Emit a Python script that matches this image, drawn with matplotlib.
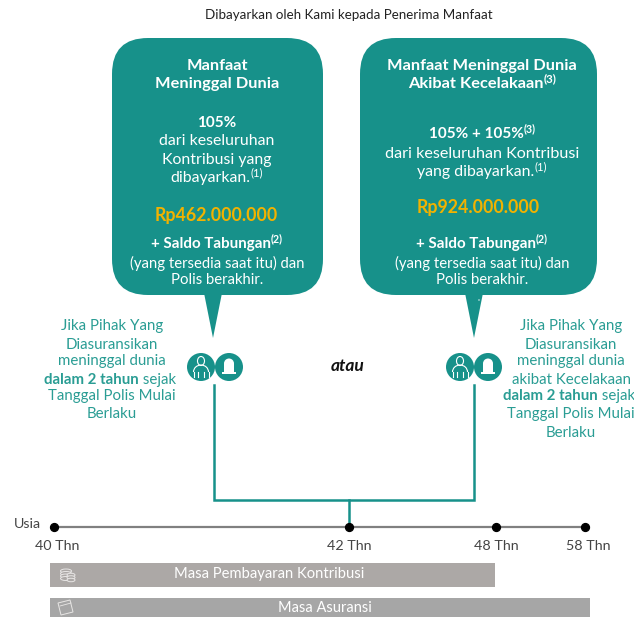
import matplotlib.pyplot as plt
from matplotlib.patches import FancyBboxPatch, Polygon, Circle, Rectangle, Ellipse, Arc

teal = '#17918a'
teal_text = '#2a9d94'
plt.rcParams['font.family'] = ['Lato', 'DejaVu Sans']

# timeline
age_labels = ['40 Thn', '42 Thn', '48 Thn', '58 Thn']
age_x = [54, 349, 496, 585]
bar_labels = ['Masa Pembayaran Kontribusi', 'Masa Asuransi']
bar_colors = ['#aca8a6', '#a6a6a6']

# box texts: each line is a list of (text, bold, superscript)
left_box = [
    [('Manfaat', 1, 0)],
    [('Meninggal Dunia', 1, 0)],
    [('105%', 1, 0)],
    [('dari keseluruhan', 0, 0)],
    [('Kontribusi yang', 0, 0)],
    [('dibayarkan.', 0, 0), ('(1)', 0, 1)],
    [('+ Saldo Tabungan', 1, 0), ('(2)', 1, 1)],
    [('(yang tersedia saat itu) dan', 0, 0)],
    [('Polis berakhir.', 0, 0)],
]
left_y = [66, 84, 123, 141, 160, 178, 244, 263, 280]
left_sizes = [11.8, 11.8, 11, 11.4, 11.4, 11.4, 10.9, 10.75, 10.75]
right_box = [
    [('Manfaat Meninggal Dunia', 1, 0)],
    [('Akibat Kecelakaan', 1, 0), ('(3)', 1, 1)],
    [('105% + 105%', 1, 0), ('(3)', 1, 1)],
    [('dari keseluruhan Kontribusi', 0, 0)],
    [('yang dibayarkan.', 0, 0), ('(1)', 0, 1)],
    [('+ Saldo Tabungan', 1, 0), ('(2)', 1, 1)],
    [('(yang tersedia saat itu) dan', 0, 0)],
    [('Polis berakhir.', 0, 0)],
]
right_y = [66, 84, 134, 154, 172, 244, 263, 280]
right_sizes = [11.8, 11.8, 11, 11.6, 11.4, 10.9, 10.75, 10.75]
left_amount = 'Rp462.000.000'
right_amount = 'Rp924.000.000'

left_note = [
    [('Jika Pihak Yang', 0, 0)],
    [('Diasuransikan', 0, 0)],
    [('meninggal dunia', 0, 0)],
    [('dalam 2 tahun', 1, 0), (' sejak', 0, 0)],
    [('Tanggal Polis Mulai', 0, 0)],
    [('Berlaku', 0, 0)],
]
left_note_y = [326, 345, 361, 380, 396, 414]
right_note = [
    [('Jika Pihak Yang', 0, 0)],
    [('Diasuransikan', 0, 0)],
    [('meninggal dunia', 0, 0)],
    [('akibat Kecelakaan', 0, 0)],
    [('dalam 2 tahun', 1, 0), (' sejak', 0, 0)],
    [('Tanggal Polis Mulai', 0, 0)],
    [('Berlaku', 0, 0)],
]
right_note_y = [326, 345, 361, 380, 396, 414, 433]

fig = plt.figure(figsize=(6.34, 6.17), dpi=100)
ax = fig.add_axes([0, 0, 1, 1])
ax.set_xlim(0, 634)
ax.set_ylim(617, 0)
ax.axis('off')


def rich_line(cx, y, parts, size, color):
    # measure the pieces first so the whole line can be centred
    r = fig.canvas.get_renderer()
    items = []
    total = 0
    for s, bold, sup in parts:
        t = ax.text(0, y - (5 if sup else 0), s, fontsize=size * (0.7 if sup else 1),
                    fontweight='bold' if bold else 'normal', color=color, va='center', ha='left',
                    clip_on=False)
        w = t.get_window_extent(r).width
        if s.startswith(' '):
            w += size * 0.35
        items.append((t, w))
        total += w
    x = cx - total / 2
    for t, w in items:
        t.set_x(x)
        x += w


def box(x0, x1, tip):
    ax.add_patch(FancyBboxPatch((x0 + 36, 38 + 36), x1 - x0 - 72, 257 - 72,
                                boxstyle='round,pad=36,rounding_size=36', fc=teal, ec='none'))
    ax.add_patch(Polygon([(tip - 9, 293), (tip, 338), (tip + 9, 293)], fc=teal, ec='none'))


def icons(cx):
    # person in outline and a small headstone
    ax.add_patch(Circle((cx, 367), 14, fc=teal, ec='none'))
    ax.add_patch(Circle((cx + 28, 367), 14, fc=teal, ec='none'))
    ax.add_patch(Ellipse((cx, 361), 7, 9, fc='none', ec='white', lw=0.8))
    ax.add_patch(Arc((cx, 372), 15, 14, theta1=180, theta2=360, ec='white', lw=0.8))
    ax.plot([cx - 7.5, cx - 7.5], [372, 377], color='white', lw=0.8)
    ax.plot([cx + 7.5, cx + 7.5], [372, 377], color='white', lw=0.8)
    ax.plot([cx - 3, cx - 3], [372, 377], color='white', lw=0.8)
    ax.plot([cx + 3, cx + 3], [372, 377], color='white', lw=0.8)
    g = cx + 28
    ax.add_patch(Ellipse((g, 363.5), 10, 10, fc='white', ec='none'))
    ax.add_patch(Rectangle((g - 5, 363.5), 10, 8.5, fc='white', ec='none'))
    ax.add_patch(Rectangle((g - 7, 372), 14, 2, fc='white', ec='none'))


ax.text(349, 15, 'Dibayarkan oleh Kami kepada Penerima Manfaat', fontsize=9.6,
        color='#222222', ha='center', va='center')

box(112, 323, 213)
box(360, 597, 474)
ax.add_patch(Circle((479, 300), 0.7, fc='white', ec='none'))

for parts, y, size in zip(left_box, left_y, left_sizes):
    rich_line(217, y, parts, size, 'white')
for parts, y, size in zip(right_box, right_y, right_sizes):
    rich_line(482, y, parts, size, 'white')
ax.text(216.5, 215, left_amount, fontsize=12.8, fontweight='bold', color='#f2b200', ha='center', va='center')
ax.text(478.5, 208, right_amount, fontsize=12.8, fontweight='bold', color='#f2b200', ha='center', va='center')

for parts, y in zip(left_note, left_note_y):
    rich_line(112, y, parts, 10.8, teal_text)
for parts, y in zip(right_note, right_note_y):
    rich_line(571, y, parts, 10.8, teal_text)

icons(201)
icons(460)
ax.text(347.5, 366, 'atau', fontsize=12.5, fontweight='bold', fontstyle='italic', color='#111111',
        ha='center', va='center')

# connector from the icons down to the timeline
ax.plot([214, 214, 474, 474], [385, 500, 500, 385], color=teal, lw=1.8, solid_joinstyle='miter')
ax.plot([349, 349], [500, 527], color=teal, lw=1.8)

# age line
ax.plot([age_x[0], age_x[-1]], [527, 527], color='#808080', lw=1.6, zorder=2)
ax.scatter(age_x, [527] * 4, s=32, color='black', zorder=3)
ax.text(14, 524, 'Usia', fontsize=10.3, color='#444444', ha='left', va='center')
for x, lab in zip(age_x, age_labels):
    ax.text(x + (3 if x < 100 else 0) + (0 if x < 500 else 3), 546, lab, fontsize=10.3, color='#444444',
            ha='center', va='center')

# period bars
ax.add_patch(Rectangle((50, 563), 445, 24, fc=bar_colors[0], ec='none'))
ax.add_patch(Rectangle((50, 598), 540, 19, fc=bar_colors[1], ec='none'))
ax.text(269, 574, bar_labels[0], fontsize=10.6, color='white', ha='center', va='center')
ax.text(325, 608, bar_labels[1], fontsize=10.5, color='white', ha='center', va='center')

# coin stack and calendar icons
for dy in [0, 2.5, 5, 7.5]:
    ax.add_patch(Ellipse((66, 571 + dy), 11, 4, fc='#aca8a6', ec='#e8e6e5', lw=0.7))
for dy in [3, 5.5, 8]:
    ax.add_patch(Ellipse((71, 572 + dy), 8, 3.5, fc='#aca8a6', ec='#e8e6e5', lw=0.7))
ax.add_patch(Polygon([(58, 603), (70, 600), (73, 612), (61, 615)], fc='none', ec='#e8e6e5', lw=0.7))
ax.plot([60, 71], [606, 603], color='#e8e6e5', lw=0.6)

fig.savefig('out.png', dpi=100)
